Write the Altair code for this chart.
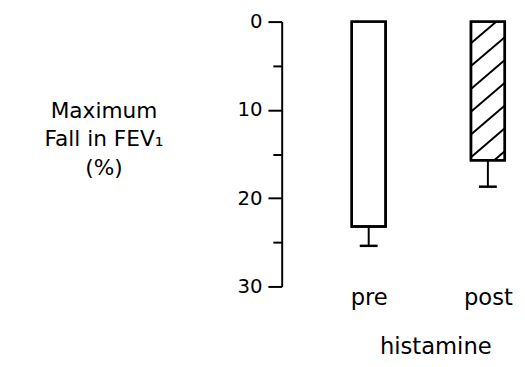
import json
import numpy as np
import pandas as pd
import altair as alt

# ---- data ----
categories = ["pre", "post"]
positions = [1, 2]
mean_fall = [23.2, 15.7]      # maximum fall in FEV1 (%)
sem_fall = [2.2, 3.0]         # error bar length
hatched = [False, True]
y_ticks = [0, 5, 10, 15, 20, 25, 30]

# ---- styles ----
FONT = "DejaVu Sans"
BAR_HALF = 0.142              # half bar width in x units
CAP_HALF = 0.075              # half cap width in x units
HATCH_SLOPE = 11.5            # y-units per x-unit
HATCH_STEP = 2.58             # vertical spacing of hatch lines (y units)
HATCH_START = 2.46

bars = pd.DataFrame({
    "cat": categories,
    "pos": positions,
    "mean": mean_fall,
    "sem": sem_fall,
})
bars["x0"] = bars["pos"] - BAR_HALF
bars["x1"] = bars["pos"] + BAR_HALF
bars["top"] = 0.0
bars["err"] = bars["mean"] + bars["sem"]
bars["c0"] = bars["pos"] - CAP_HALF
bars["c1"] = bars["pos"] + CAP_HALF

# hatch segments clipped to the hatched bar(s)
rows = []
for p, v, h in zip(positions, mean_fall, hatched):
    if not h:
        continue
    xl, xr = p - BAR_HALF, p + BAR_HALF
    w = xr - xl
    c = HATCH_START
    while c - HATCH_SLOPE * w < v:
        ys = min(c, v)
        xs = xl + (c - ys) / HATCH_SLOPE
        ye = c - HATCH_SLOPE * w
        if ye < 0:
            xe = xl + c / HATCH_SLOPE
            ye = 0.0
        else:
            xe = xr
        rows.append({"hx": xs, "hy": ys, "hx2": xe, "hy2": ye})
        c += HATCH_STEP
hatch = pd.DataFrame(rows)

xscale = alt.Scale(domain=[0.27, 2.17], nice=False, zero=False)
yscale = alt.Scale(domain=[0, 30], reverse=True, nice=False, zero=False)

label_expr_x = f"{json.dumps(categories)}[datum.value - 1]"

x_axis = alt.Axis(
    values=positions, labelExpr=label_expr_x, domain=False, ticks=False,
    grid=False, labelFont=FONT, labelFontSize=23, labelColor="black",
    labelPadding=0, title="histamine", titleFont=FONT, titleFontSize=23,
    titleFontWeight="normal", titleColor="black", titleX=156, titleY=68,
    titleBaseline="alphabetic",
)
y_axis = alt.Axis(
    values=y_ticks,
    labelExpr="datum.value % 10 === 0 ? datum.label : ''",
    grid=False, domainColor="black", domainWidth=2, tickColor="black",
    tickWidth=2,
    tickSize={"condition": {"test": "datum.value % 10 === 0", "value": 14}, "value": 9},
    labelFont=FONT, labelFontSize=20, labelColor="black", labelPadding=6,
    title=["Maximum", "Fall in FEV\u2081", "(%)"], titleFont=FONT,
    titleFontSize=22, titleFontWeight="normal", titleColor="black",
    titleAngle=0, titleAlign="center", titleBaseline="alphabetic",
    titleX=-181, titleY=97, titleLineHeight=29,
)

base = alt.Chart(bars)

bar_fill = base.mark_rect(fill="white", stroke="black", strokeWidth=2.5).encode(
    x=alt.X("x0:Q", scale=xscale, axis=x_axis),
    x2="x1:Q",
    y=alt.Y("top:Q", scale=yscale, axis=y_axis),
    y2="mean:Q",
)

hatch_layer = alt.Chart(hatch).mark_rule(color="black", strokeWidth=2).encode(
    x=alt.X("hx:Q", scale=xscale),
    x2="hx2:Q",
    y=alt.Y("hy:Q", scale=yscale),
    y2="hy2:Q",
)

bar_outline = base.mark_rect(fill=None, fillOpacity=0, stroke="black", strokeWidth=2.5).encode(
    x=alt.X("x0:Q", scale=xscale),
    x2="x1:Q",
    y=alt.Y("top:Q", scale=yscale),
    y2="mean:Q",
)

err_line = base.mark_rule(color="black", strokeWidth=2).encode(
    x=alt.X("pos:Q", scale=xscale),
    y=alt.Y("mean:Q", scale=yscale),
    y2="err:Q",
)

err_cap = base.mark_rule(color="black", strokeWidth=2.5).encode(
    x=alt.X("c0:Q", scale=xscale),
    x2="c1:Q",
    y=alt.Y("err:Q", scale=yscale),
)

chart = alt.layer(bar_fill, hatch_layer, bar_outline, err_line, err_cap).properties(
    width=230,
    height=269,
    autosize=alt.AutoSizeParams(type="none"),
    padding={"left": 278, "top": 11, "right": 9, "bottom": 79},
    background="white",
).configure_view(stroke=None)

chart.save("out.html", embed_options={"renderer": "svg", "actions": False})
